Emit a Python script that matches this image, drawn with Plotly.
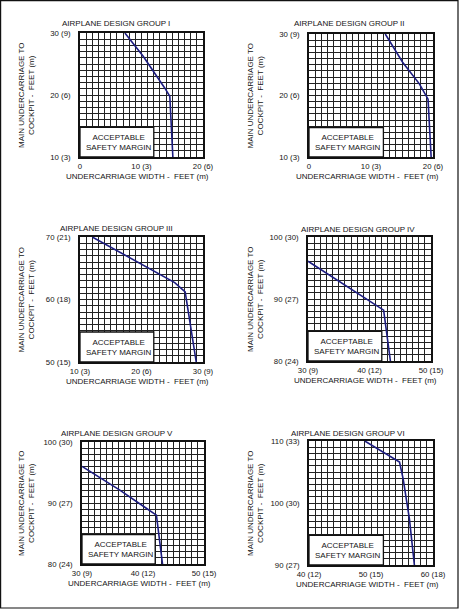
import plotly.graph_objects as go

W, H = 459, 610

# ---------------- data ----------------
GROUPS = ["I", "II", "III", "IV", "V", "VI"]
X_TICK_VALUES = [[0, 10, 20], [0, 10, 20], [10, 20, 30], [30, 40, 50], [30, 40, 50], [40, 50, 60]]
X_TICK_LABELS = [["0", "10 (3)", "20 (6)"], ["0", "10 (3)", "20 (6)"], ["10 (3)", "20 (6)", "30 (9)"],
                 ["30 (9)", "40 (12)", "50 (15)"], ["30 (9)", "40 (12)", "50 (15)"], ["40 (12)", "50 (15)", "60 (18)"]]
Y_TICK_VALUES = [[10, 20, 30], [10, 20, 30], [50, 60, 70], [80, 90, 100], [80, 90, 100], [90, 100, 110]]
Y_TICK_LABELS = [["10 (3)", "20 (6)", "30 (9)"], ["10 (3)", "20 (6)", "30 (9)"], ["50 (15)", "60 (18)", "70 (21)"],
                 ["80 (24)", "90 (27)", "100 (30)"], ["80 (24)", "90 (27)", "100 (30)"], ["90 (27)", "100 (30)", "110 (33)"]]

G1_WIDTH = [7.3, 10.3, 13.8, 14.6, 15.1]
G1_DIST = [30, 26.2, 21.1, 19.8, 10]
G2_WIDTH = [12.3, 15.1, 17.8, 19.2, 19.7]
G2_DIST = [30, 25.4, 21.9, 19.4, 10]
G3_WIDTH = [12.0, 20.0, 25.4, 27.1, 28.9]
G3_DIST = [70, 65.7, 62.7, 61.2, 50]
G4_WIDTH = [30, 37.3, 42.3, 43.4]
G4_DIST = [96.1, 91.35, 88.2, 80]
G5_WIDTH = [30, 36.2, 40.6, 42.2, 43.2]
G5_DIST = [96.0, 92.1, 89.1, 88.0, 80]
G6_WIDTH = [49.0, 54.6, 55.2, 56.2, 57.0]
G6_DIST = [110, 106.6, 103.8, 97.4, 90]

CURVES = [(G1_WIDTH, G1_DIST), (G2_WIDTH, G2_DIST), (G3_WIDTH, G3_DIST),
          (G4_WIDTH, G4_DIST), (G5_WIDTH, G5_DIST), (G6_WIDTH, G6_DIST)]

BOX_TEXT = "ACCEPTABLE<br>SAFETY MARGIN"
Y_TITLE = "MAIN UNDERCARRIAGE TO<br>COCKPIT -\u00a0 FEET (m)"
X_TITLE = "UNDERCARRIAGE WIDTH -\u00a0 FEET (m)"

# ---------------- layout (pixels) ----------------
# plot area: left, right, top, bottom
PANELS = [(80, 203, 33, 157), (309, 433, 34, 157),
          (80, 203, 237, 362), (308, 431, 237, 361),
          (82, 204, 442, 564), (309, 433, 441, 565)]
TITLE_POS = [(60, 24), (292, 24), (58, 228), (299, 229), (59, 433), (289, 433)]

FONT = "Liberation Sans, Arial, sans-serif"
TXT = "#151515"
GRID = "#222222"
CURVE = "#1c1c80"

fig = go.Figure()
annotations = []
shapes = []

for i, g in enumerate(GROUPS):
    n = "" if i == 0 else str(i + 1)
    xa, ya = "xaxis" + n, "yaxis" + n
    xr, yr = "x" + n, "y" + n
    l, r, t, b = PANELS[i]
    xs, ys = X_TICK_VALUES[i][0], Y_TICK_VALUES[i][0]
    xe, ye = X_TICK_VALUES[i][-1], Y_TICK_VALUES[i][-1]

    xvals = list(range(xs, xe + 1, 5))
    xtext = [X_TICK_LABELS[i][X_TICK_VALUES[i].index(v)] if v in X_TICK_VALUES[i] else "" for v in xvals]
    yvals = list(range(ys, ye + 1, 5))
    ytext = [Y_TICK_LABELS[i][Y_TICK_VALUES[i].index(v)] if v in Y_TICK_VALUES[i] else "" for v in yvals]

    common = dict(showline=True, mirror=True, linecolor="#111", linewidth=1.7,
                  showgrid=True, gridcolor=GRID, gridwidth=1.4, zeroline=False,
                  ticks="", tickfont=dict(family=FONT, size=7.8, color=TXT),
                  fixedrange=True, automargin=False)
    fig.update_layout(**{
        xa: dict(domain=[l / W, r / W], anchor=yr, range=[xs, xe], tickmode="array",
                 tickvals=xvals, ticktext=xtext, ticklabelstandoff=1,
                 minor=dict(tickmode="linear", tick0=xs, dtick=1, showgrid=True,
                            gridcolor=GRID, gridwidth=0.9, ticks=""),
                 **common),
        ya: dict(domain=[1 - b / H, 1 - t / H], anchor=xr, range=[ys, ye], tickmode="array",
                 tickvals=yvals, ticktext=ytext, ticklabelstandoff=6,
                 minor=dict(tickmode="linear", tick0=ys, dtick=1, showgrid=True,
                            gridcolor=GRID, gridwidth=0.9, ticks=""),
                 **common),
    })

    cx, cy = CURVES[i]
    fig.add_trace(go.Scatter(x=cx, y=cy, mode="lines", xaxis=xr, yaxis=yr,
                             line=dict(color=CURVE, width=1.6), hoverinfo="skip",
                             showlegend=False))

    # acceptable safety margin box
    bx1, by1 = xs + 12, ys + 4.8
    shapes.append(dict(type="rect", xref=xr, yref=yr, x0=xs, x1=bx1, y0=ys, y1=by1,
                       fillcolor="white", line=dict(color="#111", width=1.3), layer="between"))
    annotations.append(dict(x=(xs + bx1) / 2 + 0.25, y=(ys + by1) / 2, xref=xr, yref=yr,
                            text=BOX_TEXT, showarrow=False, align="center",
                            font=dict(family=FONT, size=8, color=TXT)))

    # panel title
    tx, ty = TITLE_POS[i]
    annotations.append(dict(x=tx / W, y=1 - ty / H, xref="paper", yref="paper",
                            xanchor="left", yanchor="middle", showarrow=False,
                            text="AIRPLANE DESIGN GROUP " + g,
                            font=dict(family=FONT, size=8, color=TXT)))
    # y-axis title
    col_off = 0 if l < 200 else 229
    annotations.append(dict(x=(col_off + 26) / W, y=1 - ((t + b) / 2) / H,
                            xref="paper", yref="paper", xanchor="center", yanchor="middle",
                            textangle=-90, showarrow=False, text=Y_TITLE,
                            font=dict(family=FONT, size=8, color=TXT)))
    # x-axis title
    annotations.append(dict(x=((l + r) / 2 - 4) / W, y=1 - (b + 19.5) / H,
                            xref="paper", yref="paper", xanchor="center", yanchor="middle",
                            showarrow=False, text=X_TITLE,
                            font=dict(family=FONT, size=8, color=TXT)))

# outer border of the figure
shapes.append(dict(type="rect", xref="paper", yref="paper",
                   x0=0.6 / W, x1=458 / W, y0=1 - 608 / H, y1=1 - 0.6 / H,
                   line=dict(color="#111", width=1.2), fillcolor="rgba(0,0,0,0)", layer="above"))

fig.update_layout(template="none", width=W, height=H,
                  margin=dict(l=0, r=0, t=0, b=0, pad=0, autoexpand=False),
                  paper_bgcolor="white", plot_bgcolor="white",
                  shapes=shapes, annotations=annotations, showlegend=False,
                  font=dict(family=FONT, size=8, color=TXT))

fig.write_html("out.html", config=dict(displayModeBar=False),
               post_script="document.body.style.margin='0';document.body.style.overflow='hidden';")
